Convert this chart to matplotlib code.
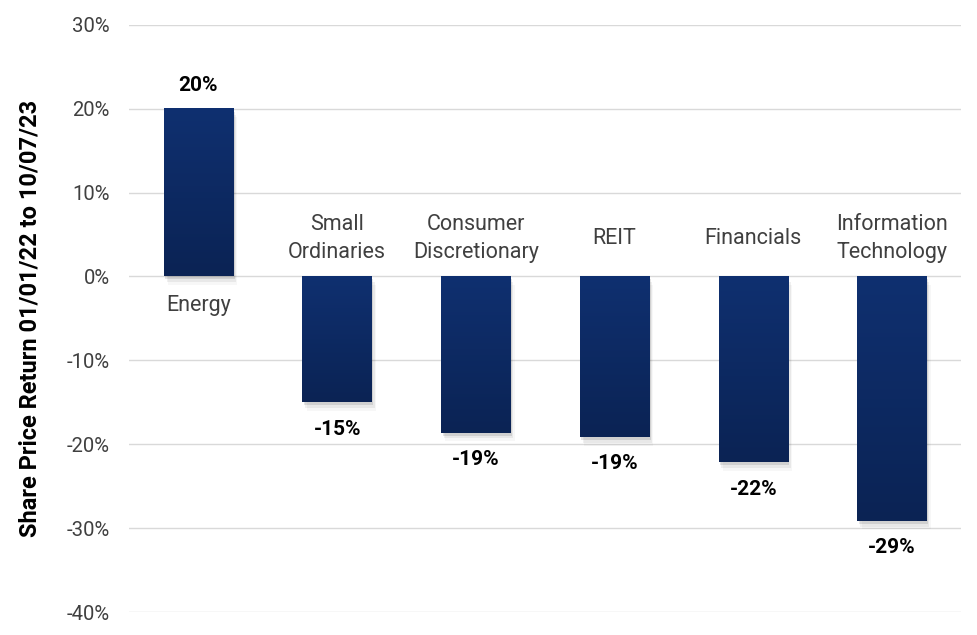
import matplotlib.pyplot as plt
import numpy as np

plt.rcParams['font.family'] = ['Roboto', 'DejaVu Sans']

categories = ['Energy', 'Small\nOrdinaries', 'Consumer\nDiscretionary', 'REIT',
              'Financials', 'Information\nTechnology']
returns = [20.0, -15.0, -18.6, -19.1, -22.1, -29.1]
value_labels = ['20%', '-15%', '-19%', '-19%', '-22%', '-29%']
yticks = [30, 20, 10, 0, -10, -20, -30, -40]

fig = plt.figure(figsize=(9.78, 6.35), dpi=100)
ax = fig.add_axes([0.132, 0.036, 0.851, 0.925])

x = np.arange(len(categories))
bar_w = 0.5
bars = ax.bar(x, returns, width=bar_w, color='none', zorder=3)

# gradient fill + soft shadow for each bar (light top -> dark bottom)
grad = np.linspace(1, 0, 256).reshape(-1, 1)
cmap = plt.matplotlib.colors.LinearSegmentedColormap.from_list('navy', ['#0f3070', '#0b2354'])
for b in bars:
    x0 = b.get_x()
    y0, y1 = sorted([0, b.get_height()])
    for k, a in enumerate([0.10, 0.06, 0.03]):
        ax.add_patch(plt.Rectangle((x0 + 0.01 * (k + 1), y0 - 0.35 * (k + 1)), bar_w, y1 - y0,
                                   color='black', alpha=a, lw=0, zorder=2))
    ax.imshow(grad, extent=(x0, x0 + bar_w, y0, y1), cmap=cmap, vmin=0, vmax=1,
              aspect='auto', zorder=3, origin='lower')

for xi, v, lab, cat in zip(x, returns, value_labels, categories):
    if v >= 0:
        ax.annotate(lab, (xi, v), xytext=(0, 17), textcoords='offset points',
                    ha='center', va='center', fontsize=15, fontweight='bold', color='black')
        ax.text(xi, -3.4, cat, ha='center', va='center', fontsize=15.5, color='#404040',
                linespacing=1.45)
    else:
        ax.annotate(lab, (xi, v), xytext=(0, -19.5), textcoords='offset points',
                    ha='center', va='center', fontsize=15, fontweight='bold', color='black')
        ax.text(xi, 4.5, cat, ha='center', va='center', fontsize=15.5, color='#404040',
                linespacing=1.45)

ax.set_xlim(-0.5, len(categories) - 0.5)
ax.set_ylim(-40, 30)
ax.set_yticks(yticks)
ax.set_yticklabels([f'{t}%' for t in yticks], fontsize=14.6, color='#404040')
ax.set_xticks([])
ax.tick_params(axis='y', length=0, pad=14)
ax.grid(axis='y', color='#d9d9d9', lw=1, zorder=0)
for s in ax.spines.values():
    s.set_visible(False)
ax.set_ylabel('Share Price Return 01/01/22 to 10/07/23', fontsize=17, fontweight='bold',
              color='black', va='center')
ax.yaxis.set_label_coords(-0.119, 0.5)

fig.savefig('out.png', dpi=100)
